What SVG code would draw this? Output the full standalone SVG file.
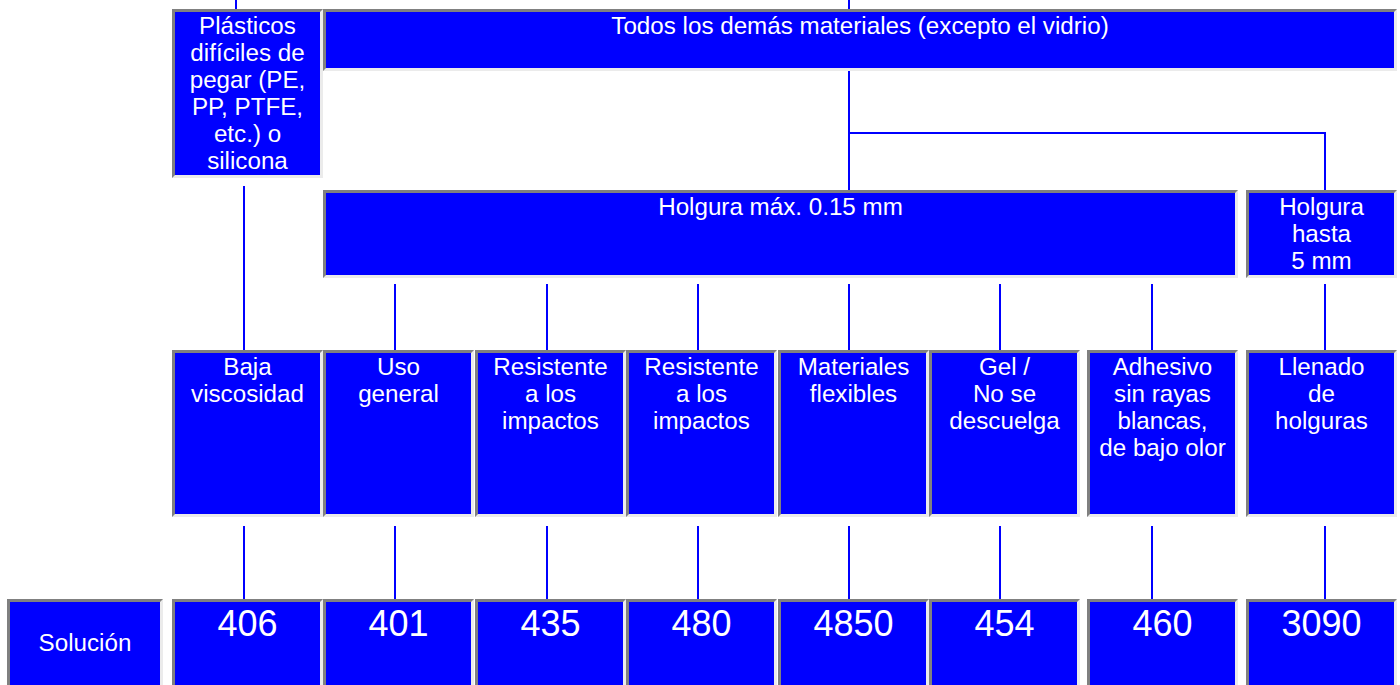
<svg xmlns="http://www.w3.org/2000/svg" width="1400" height="685" viewBox="0 0 1400 685">
<style>
.lt{fill:#ebebeb}
.dk{fill:#808080}
.bl{fill:#0000ff}
text{font-family:"Liberation Sans",Arial,sans-serif;fill:#ffffff;text-anchor:middle;font-size:24.2px}
.num{font-size:36px}
.cn{stroke:#0000ff;stroke-width:2;fill:none}
</style>
<rect width="1400" height="685" fill="#ffffff"/>
<g id="connectors">
<path class="cn" d="M236,0V10"/>
<path class="cn" d="M849,0V190"/>
<path class="cn" d="M849,133H1325V190"/>
<path class="cn" d="M244,186V350"/>
<path class="cn" d="M395,284V350M547,284V350M698,284V350M849,284V350M1000,284V350M1152,284V350M1325,284V350"/>
<path class="cn" d="M244,526V599M395,526V599M547,526V599M698,526V599M849,526V599M1000,526V599M1152,526V599M1325,526V599"/>
</g>
<g id="n-plasticos">
<rect class="lt" x="172" y="9" width="151" height="169"/>
<polygon class="dk" points="172,9 323,9 320,12 175,12 175,175 172,178"/>
<rect class="bl" x="175" y="12" width="145" height="163"/>
<text x="247.5" y="34">Plásticos</text>
<text x="247.5" y="61">difíciles de</text>
<text x="247.5" y="88">pegar (PE,</text>
<text x="247.5" y="115">PP, PTFE,</text>
<text x="247.5" y="142">etc.) o</text>
<text x="247.5" y="169">silicona</text>
</g>
<g id="n-todos">
<rect class="lt" x="323" y="9" width="1074" height="62"/>
<polygon class="dk" points="323,9 1397,9 1394,12 326,12 326,68 323,71"/>
<rect class="bl" x="326" y="12" width="1068" height="56"/>
<text x="860" y="34">Todos los demás materiales (excepto el vidrio)</text>
</g>
<g id="n-holgura-max">
<rect class="lt" x="323" y="190" width="915" height="88"/>
<polygon class="dk" points="323,190 1238,190 1235,193 326,193 326,275 323,278"/>
<rect class="bl" x="326" y="193" width="909" height="82"/>
<text x="780.5" y="215">Holgura máx. 0.15 mm</text>
</g>
<g id="n-holgura-hasta">
<rect class="lt" x="1246" y="190" width="151" height="88"/>
<polygon class="dk" points="1246,190 1397,190 1394,193 1249,193 1249,275 1246,278"/>
<rect class="bl" x="1249" y="193" width="145" height="82"/>
<text x="1321.5" y="215">Holgura</text>
<text x="1321.5" y="242">hasta</text>
<text x="1321.5" y="269">5 mm</text>
</g>
<g id="n-baja">
<rect class="lt" x="172" y="350" width="151" height="167"/>
<polygon class="dk" points="172,350 323,350 320,353 175,353 175,514 172,517"/>
<rect class="bl" x="175" y="353" width="145" height="161"/>
<text x="247.5" y="375">Baja</text>
<text x="247.5" y="402">viscosidad</text>
</g>
<g id="n-uso">
<rect class="lt" x="323" y="350" width="151" height="167"/>
<polygon class="dk" points="323,350 474,350 471,353 326,353 326,514 323,517"/>
<rect class="bl" x="326" y="353" width="145" height="161"/>
<text x="398.5" y="375">Uso</text>
<text x="398.5" y="402">general</text>
</g>
<g id="n-resistente1">
<rect class="lt" x="475" y="350" width="151" height="167"/>
<polygon class="dk" points="475,350 626,350 623,353 478,353 478,514 475,517"/>
<rect class="bl" x="478" y="353" width="145" height="161"/>
<text x="550.5" y="375">Resistente</text>
<text x="550.5" y="402">a los</text>
<text x="550.5" y="429">impactos</text>
</g>
<g id="n-resistente2">
<rect class="lt" x="626" y="350" width="151" height="167"/>
<polygon class="dk" points="626,350 777,350 774,353 629,353 629,514 626,517"/>
<rect class="bl" x="629" y="353" width="145" height="161"/>
<text x="701.5" y="375">Resistente</text>
<text x="701.5" y="402">a los</text>
<text x="701.5" y="429">impactos</text>
</g>
<g id="n-materiales">
<rect class="lt" x="778" y="350" width="151" height="167"/>
<polygon class="dk" points="778,350 929,350 926,353 781,353 781,514 778,517"/>
<rect class="bl" x="781" y="353" width="145" height="161"/>
<text x="853.5" y="375">Materiales</text>
<text x="853.5" y="402">flexibles</text>
</g>
<g id="n-gel">
<rect class="lt" x="929" y="350" width="151" height="167"/>
<polygon class="dk" points="929,350 1080,350 1077,353 932,353 932,514 929,517"/>
<rect class="bl" x="932" y="353" width="145" height="161"/>
<text x="1004.5" y="375">Gel /</text>
<text x="1004.5" y="402">No se</text>
<text x="1004.5" y="429">descuelga</text>
</g>
<g id="n-adhesivo">
<rect class="lt" x="1087" y="350" width="151" height="167"/>
<polygon class="dk" points="1087,350 1238,350 1235,353 1090,353 1090,514 1087,517"/>
<rect class="bl" x="1090" y="353" width="145" height="161"/>
<text x="1162.5" y="375">Adhesivo</text>
<text x="1162.5" y="402">sin rayas</text>
<text x="1162.5" y="429">blancas,</text>
<text x="1162.5" y="456">de bajo olor</text>
</g>
<g id="n-llenado">
<rect class="lt" x="1246" y="350" width="151" height="167"/>
<polygon class="dk" points="1246,350 1397,350 1394,353 1249,353 1249,514 1246,517"/>
<rect class="bl" x="1249" y="353" width="145" height="161"/>
<text x="1321.5" y="375">Llenado</text>
<text x="1321.5" y="402">de</text>
<text x="1321.5" y="429">holguras</text>
</g>
<g id="n-solucion">
<rect class="lt" x="7" y="599" width="156" height="100"/>
<polygon class="dk" points="7,599 163,599 160,602 10,602 10,699 7,699"/>
<rect class="bl" x="10" y="602" width="150" height="100"/>
<text x="85" y="651">Solución</text>
</g>
<g id="n-406">
<rect class="lt" x="172" y="599" width="151" height="100"/>
<polygon class="dk" points="172,599 323,599 320,602 175,602 175,699 172,699"/>
<rect class="bl" x="175" y="602" width="145" height="100"/>
<text class="num" x="247.5" y="636">406</text>
</g>
<g id="n-401">
<rect class="lt" x="323" y="599" width="151" height="100"/>
<polygon class="dk" points="323,599 474,599 471,602 326,602 326,699 323,699"/>
<rect class="bl" x="326" y="602" width="145" height="100"/>
<text class="num" x="398.5" y="636">401</text>
</g>
<g id="n-435">
<rect class="lt" x="475" y="599" width="151" height="100"/>
<polygon class="dk" points="475,599 626,599 623,602 478,602 478,699 475,699"/>
<rect class="bl" x="478" y="602" width="145" height="100"/>
<text class="num" x="550.5" y="636">435</text>
</g>
<g id="n-480">
<rect class="lt" x="626" y="599" width="151" height="100"/>
<polygon class="dk" points="626,599 777,599 774,602 629,602 629,699 626,699"/>
<rect class="bl" x="629" y="602" width="145" height="100"/>
<text class="num" x="701.5" y="636">480</text>
</g>
<g id="n-4850">
<rect class="lt" x="778" y="599" width="151" height="100"/>
<polygon class="dk" points="778,599 929,599 926,602 781,602 781,699 778,699"/>
<rect class="bl" x="781" y="602" width="145" height="100"/>
<text class="num" x="853.5" y="636">4850</text>
</g>
<g id="n-454">
<rect class="lt" x="929" y="599" width="151" height="100"/>
<polygon class="dk" points="929,599 1080,599 1077,602 932,602 932,699 929,699"/>
<rect class="bl" x="932" y="602" width="145" height="100"/>
<text class="num" x="1004.5" y="636">454</text>
</g>
<g id="n-460">
<rect class="lt" x="1087" y="599" width="151" height="100"/>
<polygon class="dk" points="1087,599 1238,599 1235,602 1090,602 1090,699 1087,699"/>
<rect class="bl" x="1090" y="602" width="145" height="100"/>
<text class="num" x="1162.5" y="636">460</text>
</g>
<g id="n-3090">
<rect class="lt" x="1246" y="599" width="151" height="100"/>
<polygon class="dk" points="1246,599 1397,599 1394,602 1249,602 1249,699 1246,699"/>
<rect class="bl" x="1249" y="602" width="145" height="100"/>
<text class="num" x="1321.5" y="636">3090</text>
</g>
</svg>
